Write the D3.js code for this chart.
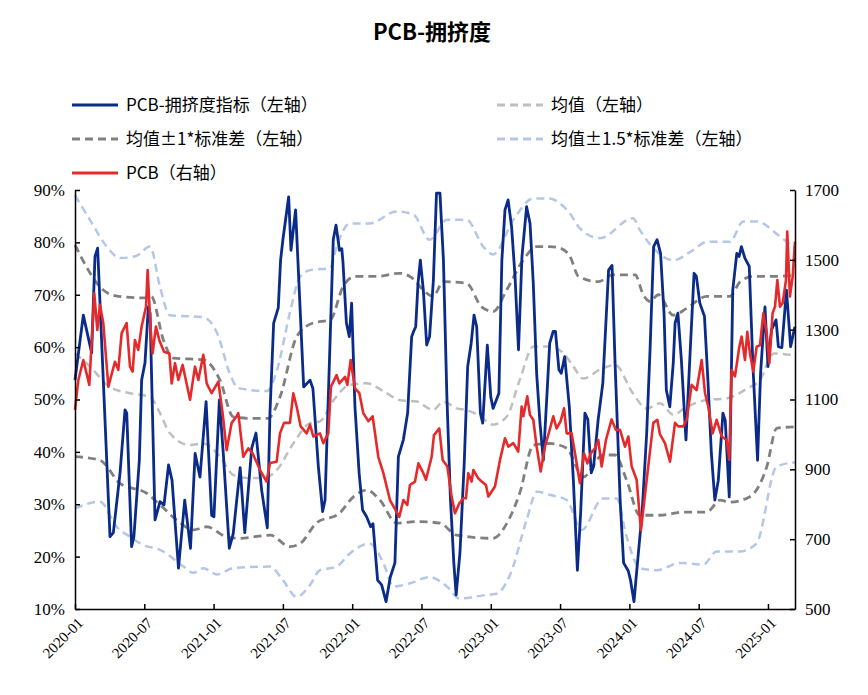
<!DOCTYPE html>
<html><head><meta charset="utf-8">
<script src="https://cdn.jsdelivr.net/npm/d3@7"></script>
<style>body{margin:0;background:#fff}</style></head>
<body><svg id="c" width="868" height="695"></svg>
<script>
// months since 2020-01
const xTickMonths=[0,6,12,18,24,30,36,42,48,54,60];
const xTickLabels=["2020-01","2020-07","2021-01","2021-07","2022-01","2022-07","2023-01","2023-07","2024-01","2024-07","2025-01"];
const leftTicks=[10,20,30,40,50,60,70,80,90];
const rightTicks=[500,700,900,1100,1300,1500,1700];

const crowdM=[0,0.72,1.44,1.73,1.96,2.45,3.03,3.32,3.9,4.33,4.48,4.9,5.1,5.57,5.77,6.06,6.35,6.5,6.93,7.36,7.71,8.1,8.4,8.96,9.5,10,10.4,10.82,11.35,11.83,12.03,12.5,12.84,13.36,13.7,14.3,14.7,15.3,15.67,16.16,16.65,16.88,17.2,17.6,17.8,18,18.5,18.7,19.1,19.8,20.35,20.6,21.07,21.44,21.65,22.07,22.36,22.6,22.9,23.1,23.2,23.5,23.75,23.95,24.24,24.6,24.9,25.25,25.6,25.8,26.2,26.55,26.93,27.3,27.7,28,28.43,28.8,29.15,29.3,29.5,29.7,29.9,30.16,30.45,30.7,31.03,31.3,31.6,31.9,32.2,32.5,32.8,33,33.33,33.7,34,34.3,34.55,34.78,35.1,35.3,35.7,36,36.2,36.7,36.96,37.23,37.5,37.8,38.1,38.4,38.7,39.1,39.4,39.68,39.97,40.26,40.55,40.9,41.1,41.4,41.6,41.9,42.1,42.4,42.8,43.15,43.5,43.78,44.15,44.4,44.7,44.9,45.3,45.7,46.2,46.5,46.76,47.2,47.5,47.9,48.1,48.4,48.7,49.1,49.5,49.8,50.1,50.4,50.7,51,51.2,51.5,51.8,51.96,52.2,52.5,52.9,53.2,53.6,53.8,54.1,54.5,54.8,55.1,55.4,55.7,56.1,56.3,56.65,56.95,57.3,57.5,57.7,58,58.38,58.7,59.1,59.36,59.74,60,60.3,60.7,60.9,61.2,61.6,61.96,62.33];
const crowdV=[53.7,66.1,58.9,77.3,78.9,53.7,23.8,24.6,36,48,47.4,21.9,23.8,38.4,53.7,57,67.7,66.5,27,30.5,29.9,37.5,34.6,17.8,30.8,21.6,39.7,35.2,49.6,27.9,27.6,49.9,39.7,21.6,24.4,37,24.6,40.7,43.6,32.7,25.5,47.4,64.6,67.5,76.6,80.5,88.7,78.5,86.2,52.4,53.7,52.1,37.2,28.6,30.8,60.1,80.5,83.3,78.5,78.8,76.3,64.6,62,68.4,48.6,36,28.9,27.6,25.7,26.3,15.5,14.6,11.4,16.1,18.8,39.1,42.3,47.4,62,62.9,63.9,72.2,76.6,70.9,60.4,62,72.8,89.4,89.4,76.6,50.5,31.4,18.8,12.7,20.7,37.8,56.3,60.7,66.1,63.9,47.4,45.5,60.4,50.5,48.3,51.2,76.6,86.2,88.1,83,73.5,59.5,77.3,86.8,83.6,72.2,55,45.5,38.4,52.4,60.7,63,63,55.7,55,58.2,48.6,34.6,17.4,28.3,47.4,46.2,36,37.2,46.2,53.1,74.7,75.6,57,30.8,18.8,17.3,15.5,11.4,18.8,28.3,43.6,60.1,79.2,80.5,77.9,66.5,51.8,48.6,57,64.6,66.5,57.6,42.3,56.3,74.1,73.5,68.4,65.9,53.7,39.7,30.8,34.6,47.4,46,31.4,70.9,77.9,77.3,79.2,77,75.4,56.3,38.4,55,67.7,56.3,63.3,65.2,60.1,59.9,70.9,60.1,63.9];

const pcbM=[0,0.29,0.72,1.24,1.67,1.93,2.16,2.45,2.89,3.46,3.75,4.04,4.47,4.76,4.99,5.19,5.48,5.77,6.15,6.29,6.55,6.72,7.01,7.3,7.71,8.17,8.37,8.66,8.95,9.32,9.96,10.39,10.68,11.11,11.4,11.83,12.41,12.78,13.13,13.56,14,14.14,14.57,15,15.38,16.02,16.59,16.88,17.46,17.75,18.1,18.61,18.9,19.19,19.54,20.06,20.35,20.63,21.21,21.5,21.93,22.16,22.65,22.89,23.38,23.58,23.87,24.24,24.62,24.96,25.4,25.77,26.26,26.7,27.27,28.08,28.43,28.77,29,29.44,29.73,30.16,30.39,30.88,31.08,31.54,31.83,32.24,32.61,32.9,33.28,33.62,33.85,34.05,34.34,34.49,34.92,35.21,35.58,35.79,36.36,36.8,37.23,37.52,37.95,38.38,38.67,38.82,39.16,39.39,39.68,39.97,40.32,40.69,41.13,41.41,41.7,42.05,42.34,42.57,43,43.29,43.72,44.07,44.36,44.65,45.02,45.31,45.6,45.97,46.46,46.84,47.19,47.62,47.91,48.2,48.63,49,49.5,50.07,50.42,50.65,51.08,51.52,51.95,52.24,52.67,52.96,53.39,53.82,54.26,54.55,54.83,55.21,55.56,55.99,56.42,56.65,56.85,57.14,57.52,57.72,58.01,58.21,58.44,58.73,59.02,59.31,59.6,59.89,60.12,60.4,60.61,60.81,61.04,61.27,61.56,61.67,61.9,62.14,62.34];
const pcbV=[1070,1156,1213,1142,1404,1299,1371,1319,1137,1208,1185,1290,1319,1194,1180,1270,1242,1309,1366,1471,1299,1232,1309,1270,1237,1232,1146,1204,1156,1199,1099,1194,1156,1228,1146,1118,1151,1061,955,1033,1052,1061,936,960,946,898,865,918,922,1003,1033,1033,1118,1080,1023,1003,1028,994,1003,975,1003,1137,1170,1146,1165,1142,1213,1132,1118,1061,1038,1052,936,889,812,764,812,798,855,865,917,889,870,936,998,1017,927,908,822,774,803,817,817,889,865,898,874,865,855,822,851,927,989,965,975,951,1080,1052,1109,1056,1042,965,894,965,1017,1052,1017,1038,1075,1003,1003,946,860,946,917,946,960,984,908,984,1043,1013,1013,965,994,908,870,726,870,1033,1042,1000,975,922,1033,1023,1023,1042,1142,1127,1213,1118,1080,1003,1042,994,984,927,1185,1166,1251,1280,1213,1294,1232,1180,1251,1256,1347,1290,1204,1347,1366,1442,1366,1376,1442,1581,1395,1452,1552];

const meanM=[0,1.3,3,4.76,6.5,7.36,8.2,9.96,11.1,12.55,13.7,14.9,16.3,17.46,18.9,20.35,21.2,22.4,23.8,25.25,26.7,28.1,29.6,31,31.9,33.05,33.9,35.06,36.2,37.4,38.5,39.7,41.1,42.3,43.15,44,45.45,46.76,48.3,49.5,50.65,51.8,52.96,54.7,56.4,58.2,59.3,60.5,62.34];
const meanV=[58.8,56.3,52.4,51.2,50.5,47.4,43.6,41.3,41.6,39.1,35.6,35,35,36.5,41.6,45.5,45.8,49.9,52.8,53.1,51.6,49.9,49.6,48,49.6,48.3,48,46.8,45.2,46.8,53.7,60.1,60.1,58.8,56.3,54,55.7,56.6,51.2,48.3,49.3,47.1,48.6,49.9,50.2,52.1,53.7,58.8,58.4];
const up1M=[0,2.45,3.75,6.2,6.6,7.65,8.5,11.1,12.55,13.7,15.2,16.7,17.75,19.2,20.6,22.1,23.2,24.24,26.1,28.1,29,30.45,31,31.9,33.9,35.2,36.2,37.4,38.8,40,41.1,42,42.86,43.6,45.3,46.6,48.5,49.2,49.8,50.5,51.8,52.96,54.7,56.7,57.6,58.7,60.5,62.34];
const up1V=[79.5,70.9,69.7,69.4,69.7,61.4,57.9,57.6,53.7,46.7,46.4,46.4,50.5,62,64.6,65.2,71.5,73.5,73.5,74.1,73.5,70.3,69.7,72.5,72.2,67.7,66.8,71,76.6,79.2,79.2,78.9,77.3,73.5,72.5,73.8,73.8,70,68.7,70,66.1,67.4,69.7,69.7,72.5,73.5,73.5,73.8];
const dn1M=[0,2.16,3.9,6.2,7.36,8.8,10.25,11.4,13.1,14.3,16.9,18.6,19.5,20.9,22.9,24.1,25.25,26.4,27.85,29.6,31.6,33.05,36.2,37.4,38.5,39.7,41.1,42.57,44,45.7,46.76,47.76,48.9,50.65,52.67,54.7,55.85,56.7,58.4,59.9,60.75,62.34];
const dn1V=[39.1,38.4,34,32.1,29.9,27,25.1,25.7,23.8,23.5,24.1,21.9,22.5,26.4,28.3,31.4,32.7,30.8,26.4,26.7,26.4,24.1,23.5,26.4,32.1,41.3,41.6,40.7,35.2,39.4,39.4,34.6,27.9,27.9,28.5,28.5,30.8,30.4,31.4,37.2,44.5,44.8];
const up15M=[0,1.29,2.75,3.9,5.3,6.5,7.36,8.2,11.1,12.3,13.4,14.1,16.6,17.5,18.6,19.5,20.35,22.1,22.65,23.8,25.5,27.85,29.3,30.7,32.2,33.9,35.35,36.2,37.95,39.7,41.1,42,42.86,43.7,45.45,48.3,48.9,50.07,51.8,53.5,54.7,56.7,57.86,59,61.04,62.34];
const up15V=[89,84.3,79.2,77,77.4,79.2,71.5,66.1,65.7,62.7,55,52.2,51.6,55.7,66.5,73.5,74.7,75.1,79.2,83.6,83.6,85.9,85.3,80.5,84.3,84.3,79.2,77.7,84.3,88.4,88.4,87.4,85.5,82.7,80.8,84.6,82.4,78.9,76.6,78.5,80.1,80.1,84,84,81.1,78.9];
const dn15M=[0,2.16,3.6,4.76,5.9,7.36,9.4,10.25,11.1,12.3,13.7,16.9,18,19.2,20.35,21.2,22.65,23.8,25.5,26.7,27.56,29,30.7,32.2,33.3,35.35,36.5,37.7,39.1,40,41.1,42.57,43.87,45.7,46.9,47.76,48.9,50.36,52.4,54.4,55.56,57.6,59,60.75,62.34];
const dn15V=[29.2,30.5,25.7,23.8,22.2,21.3,18.1,16.9,17.8,16.6,17.8,18.1,15.5,12.3,14.6,17.4,18.1,20.6,22.5,18.8,14.3,14.9,16.1,14.3,12,12.6,12.9,16.7,27,32.4,31.8,30.8,25.1,31.1,31.1,23.8,17.8,17.4,18.8,18.5,21,21,22.5,37.2,38];

const svg=d3.select("#c");
const L=75,R=795,T=190,B=609;
const x=d3.scaleLinear().domain([0,62.34]).range([L,R]);
const yL=d3.scaleLinear().domain([10,90]).range([B,T]);
const yR=d3.scaleLinear().domain([500,1700]).range([B,T]);
const serif="'Liberation Serif','Times New Roman',serif";
const cjk="'Noto Sans CJK SC',sans-serif";

svg.append("text").attr("x",432).attr("y",40).attr("text-anchor","middle")
  .attr("font-family",cjk).attr("font-weight","bold").attr("font-size",22).text("PCB-拥挤度");

function draw(M,V,y,color,w,dash,smooth){
  const line=d3.line().x((d,i)=>x(M[i])).y((d,i)=>y(V[i])).curve(smooth?d3.curveMonotoneX:d3.curveLinear);
  const p=svg.append("path").datum(V).attr("d",line).attr("fill","none").attr("stroke",color).attr("stroke-width",w).attr("stroke-linejoin","round");
  if(dash)p.attr("stroke-dasharray",dash);
}
const LB="#b4c7e7",DG="#808080",LG="#bfbfbf",BL="#0b2b88",RD="#e42a2a";
draw(up15M,up15V,yL,LB,2.5,"8,5",true);
draw(dn15M,dn15V,yL,LB,2.5,"8,5",true);
draw(up1M,up1V,yL,DG,2.8,"8,5",true);
draw(dn1M,dn1V,yL,DG,2.8,"8,5",true);
draw(meanM,meanV,yL,LG,2.5,"8,5",true);
draw(crowdM,crowdV,yL,BL,2.8,null,false);
draw(pcbM,pcbV,yR,RD,2.6,null,false);

const ax=svg.append("g").attr("transform",`translate(0,${B})`)
 .call(d3.axisBottom(x).tickValues(xTickMonths).tickFormat((d,i)=>xTickLabels[i]).tickSizeInner(-5).tickSizeOuter(0));
ax.selectAll("text").attr("font-family",serif).attr("font-size",15).attr("fill","#000")
 .attr("text-anchor","end").attr("transform","rotate(-45)").attr("dx","-0.3em").attr("dy","0.9em");
const ay=svg.append("g").attr("transform",`translate(${L},0)`)
 .call(d3.axisLeft(yL).tickValues(leftTicks).tickFormat(d=>d+"%").tickSizeInner(-5).tickSizeOuter(0).tickPadding(10));
ay.selectAll("text").attr("font-family",serif).attr("font-size",17).attr("fill","#000");
const ar=svg.append("g").attr("transform",`translate(${R},0)`)
 .call(d3.axisRight(yR).tickValues(rightTicks).tickFormat(d=>String(d)).tickSizeInner(-5).tickSizeOuter(0).tickPadding(10));
ar.selectAll("text").attr("font-family",serif).attr("font-size",17).attr("fill","#000");
svg.selectAll(".domain,.tick line").attr("stroke","#000").attr("stroke-width",1.5);

const legend=[
 {t:"PCB-拥挤度指标（左轴）",c:BL,d:null,x:72,y:105},
 {t:"均值（左轴）",c:LG,d:"8,5",x:497,y:105},
 {t:"均值±1*标准差（左轴）",c:DG,d:"8,5",x:72,y:139},
 {t:"均值±1.5*标准差（左轴）",c:LB,d:"8,5",x:497,y:139},
 {t:"PCB（右轴）",c:RD,d:null,x:72,y:173}];
legend.forEach(l=>{
  const ln=svg.append("line").attr("x1",l.x).attr("x2",l.x+46).attr("y1",l.y).attr("y2",l.y).attr("stroke",l.c).attr("stroke-width",3);
  if(l.d)ln.attr("stroke-dasharray",l.d);
  svg.append("text").attr("x",l.x+54).attr("y",l.y+6).attr("font-family",cjk).attr("font-size",17).text(l.t);
});
</script></body></html>
